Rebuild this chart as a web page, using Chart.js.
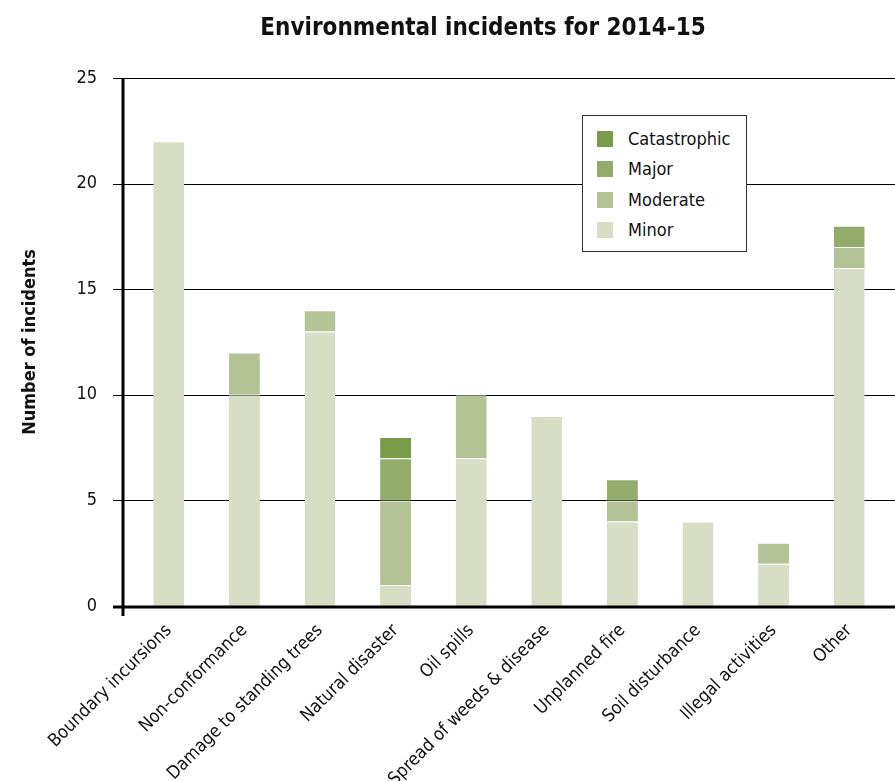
<!DOCTYPE html>
<html>
<head>
<meta charset="utf-8">
<title>Environmental incidents for 2014-15</title>
<script src="https://cdn.jsdelivr.net/npm/chart.js@4.4.1/dist/chart.umd.min.js"></script>
<style>
  html, body { margin: 0; padding: 0; background: #fff; }
  #wrap { position: relative; width: 895px; height: 781px; }
  #title {
    position: absolute; left: 233px; width: 500px; top: 13px;
    text-align: center; white-space: nowrap;
    font: bold 24px 'DejaVu Sans Condensed', sans-serif;
    color: #111;
  }
  #legend {
    position: absolute; left: 582px; top: 115px; width: 163px; height: 135px;
    background: #fff; border: 1.5px solid #333;
    font: 18px 'DejaVu Sans Condensed', sans-serif; color: #111;
  }
  #legend .item { position: absolute; left: 14px; height: 20px; line-height: 20px; }
  #legend .box { display: inline-block; width: 16px; height: 16px; vertical-align: -2px; margin-right: 15px; }
</style>
</head>
<body>
<div id="wrap">
  <canvas id="incidentsChart" width="895" height="781"></canvas>
  <div id="title">Environmental incidents for 2014-15</div>
  <div id="legend"></div>
</div>
<script>
const categories = [
    'Boundary incursions', 'Non-conformance', 'Damage to standing trees',
    'Natural disaster', 'Oil spills', 'Spread of weeds & disease',
    'Unplanned fire', 'Soil disturbance', 'Illegal activities', 'Other'
];
const minor        = [22, 10, 13, 1, 7, 9, 4, 4, 2, 16];
const moderate     = [0, 2, 1, 4, 3, 0, 1, 0, 1, 1];
const major        = [0, 0, 0, 2, 0, 0, 1, 0, 0, 1];
const catastrophic = [0, 0, 0, 1, 0, 0, 0, 0, 0, 0];
const yTicks = [0, 5, 10, 15, 20, 25];

const fontFamily = "'DejaVu Sans Condensed', sans-serif";

const series = [
    { label: 'Minor', data: minor, color: '#d8dec6' },
    { label: 'Moderate', data: moderate, color: '#b3c396' },
    { label: 'Major', data: major, color: '#93ac6c' },
    { label: 'Catastrophic', data: catastrophic, color: '#7a9c4a' }
];

// gridlines run past the bar area on both sides, and the axes are heavy black lines
const axisLines = {
    id: 'axisLines',
    beforeDatasetsDraw(chart) {
        const { ctx, chartArea, scales } = chart;
        const left = chartArea.left - 18;
        ctx.save();
        ctx.strokeStyle = '#000';
        ctx.lineWidth = 1;
        yTicks.forEach(v => {
            if (v === 0) return;
            const y = Math.round(scales.y.getPixelForValue(v)) + 0.5;
            ctx.beginPath();
            ctx.moveTo(left, y);
            ctx.lineTo(chart.width, y);
            ctx.stroke();
        });
        ctx.restore();
    },
    afterDatasetsDraw(chart) {
        const { ctx, chartArea, scales } = chart;
        const axisX = chartArea.left - 8;
        const y0 = scales.y.getPixelForValue(0);
        const yTop = scales.y.getPixelForValue(yTicks[yTicks.length - 1]);
        ctx.save();
        ctx.strokeStyle = '#000';
        ctx.lineWidth = 3;
        ctx.beginPath();
        ctx.moveTo(axisX, yTop);
        ctx.lineTo(axisX, y0 + 10);
        ctx.stroke();
        ctx.beginPath();
        ctx.moveTo(chartArea.left - 18, y0 + 1);
        ctx.lineTo(chart.width, y0 + 1);
        ctx.stroke();
        ctx.restore();
    }
};

const ctx = document.getElementById('incidentsChart').getContext('2d');
new Chart(ctx, {
    type: 'bar',
    data: {
        labels: categories,
        datasets: series.map(s => ({
            label: s.label,
            data: s.data,
            backgroundColor: s.color,
            borderColor: 'rgba(255,255,255,0.5)',
            borderWidth: { top: 1, bottom: 0, left: 0, right: 0 },
            borderSkipped: false,
            barPercentage: 0.41,
            categoryPercentage: 1
        }))
    },
    options: {
        responsive: false,
        animation: false,
        layout: { padding: { top: 78, right: 8, left: 0, bottom: 0 } },
        plugins: {
            legend: { display: false },
            tooltip: { enabled: false }
        },
        scales: {
            x: {
                stacked: true,
                grid: { display: false, drawTicks: false },
                border: { display: false },
                ticks: {
                    minRotation: 45,
                    maxRotation: 45,
                    autoSkip: false,
                    padding: 14,
                    color: '#111',
                    font: { family: fontFamily, size: 18 }
                },
                afterFit(scale) { scale.height = 175; }
            },
            y: {
                stacked: true,
                min: 0,
                max: 25,
                grid: { display: false, drawTicks: false },
                border: { display: false },
                ticks: {
                    stepSize: 5,
                    padding: 34,
                    color: '#111',
                    font: { family: fontFamily, size: 18 }
                },
                title: {
                    display: true,
                    text: 'Number of incidents',
                    color: '#111',
                    padding: { top: 20, bottom: 0 },
                    font: { family: fontFamily, size: 18, weight: 'bold' }
                },
                afterFit(scale) { scale.width = 131; }
            }
        }
    },
    plugins: [axisLines]
});

// legend box lists the severities from most to least severe
const legendEl = document.getElementById('legend');
series.slice().reverse().forEach((s, i) => {
    const item = document.createElement('div');
    item.className = 'item';
    item.style.top = (13 + i * 30.3) + 'px';
    item.innerHTML = `<span class="box" style="background:${s.color}"></span>${s.label}`;
    legendEl.appendChild(item);
});
</script>
</body>
</html>
